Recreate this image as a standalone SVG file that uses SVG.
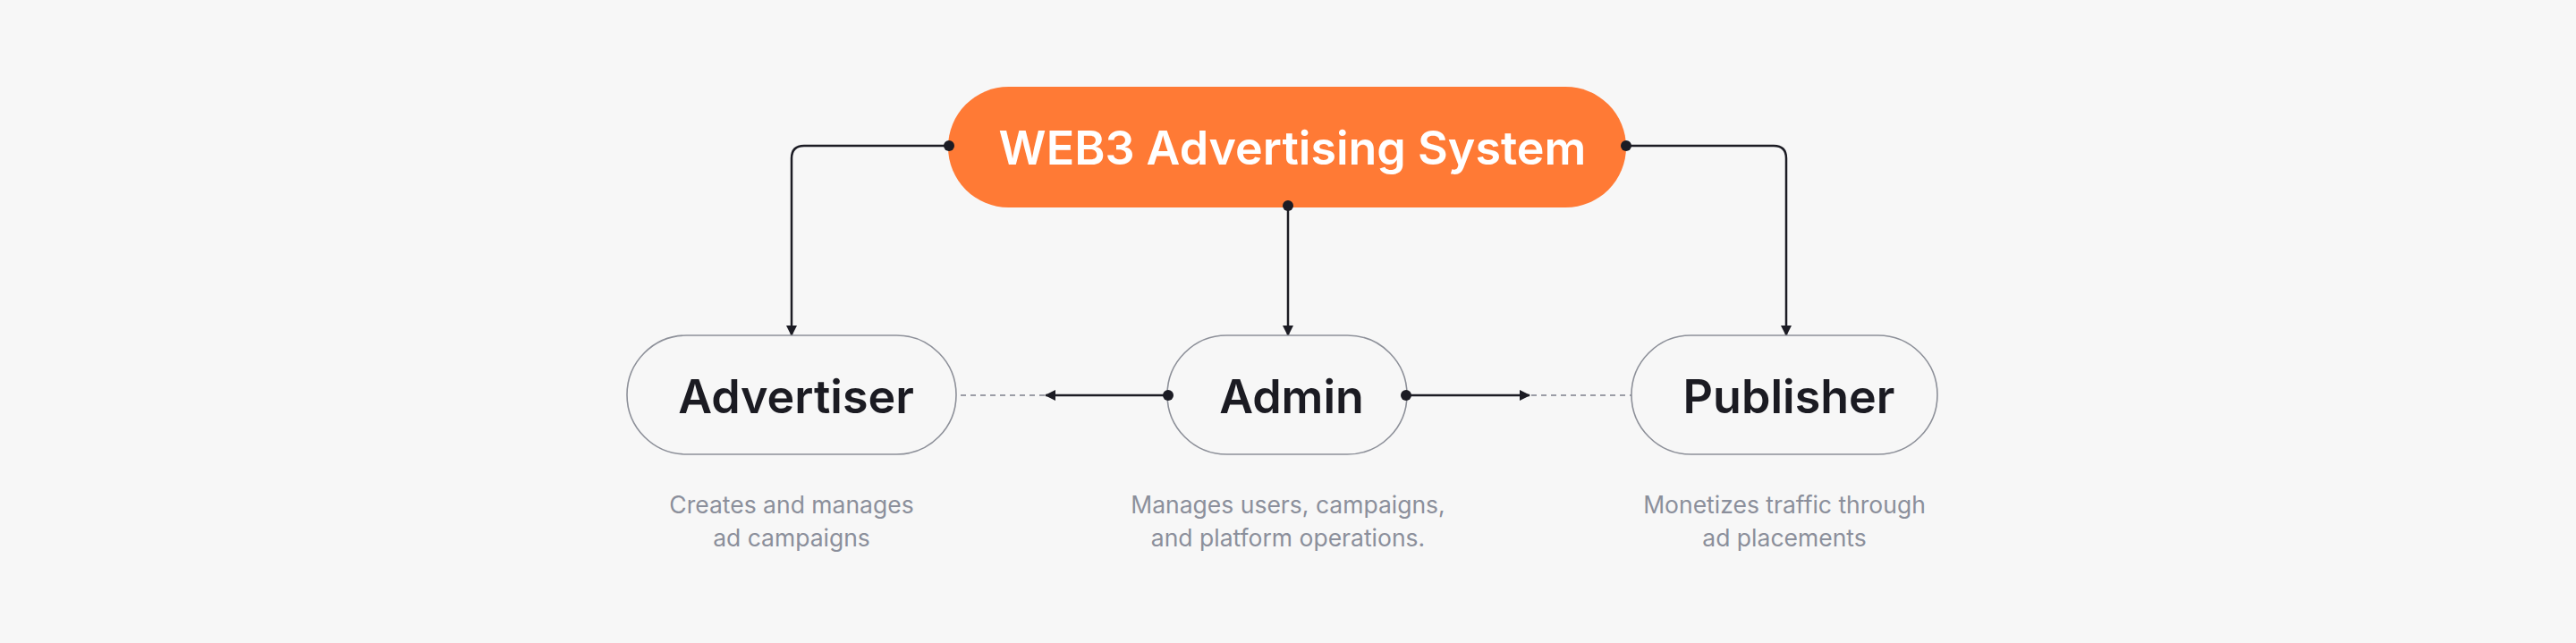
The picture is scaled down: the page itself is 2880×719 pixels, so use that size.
<svg xmlns="http://www.w3.org/2000/svg" width="2880" height="719" viewBox="0 0 2880 719">
<style>
.bg{fill:#f7f7f7}
.node{fill:#f7f7f7;stroke:#8d9099;stroke-width:1.6}
.label{font-family:Inter,"Liberation Sans",sans-serif;font-weight:600;font-size:52px;fill:#1b1b22;text-anchor:middle}
.title{font-family:Inter,"Liberation Sans",sans-serif;font-weight:600;font-size:52px;fill:#ffffff;text-anchor:middle}
.desc{font-family:Inter,"Liberation Sans",sans-serif;font-weight:400;font-size:26.5px;fill:#8b8f9b;text-anchor:middle}
.edge{fill:none;stroke:#1c1c24;stroke-width:2.5}
.dash{fill:none;stroke:#9b9da6;stroke-width:2.2;stroke-dasharray:6 5}
.dot{fill:#1c1c24}
</style>
<defs>
<marker id="arrow" viewBox="0 0 12 12" refX="11" refY="6" markerWidth="12" markerHeight="12" markerUnits="userSpaceOnUse" orient="auto">
<path d="M0,0 L12,6 L0,12 Z" fill="#1c1c24"/>
</marker>
</defs>
<rect class="bg" x="0" y="0" width="2880" height="719"/>

<g id="connectors">
<path class="edge" d="M1061,163 H899 Q885,163 885,177 V375" marker-end="url(#arrow)"/>
<path class="edge" d="M1440,230 V375" marker-end="url(#arrow)"/>
<path class="edge" d="M1818,163 H1983 Q1997,163 1997,177 V375" marker-end="url(#arrow)"/>
<path class="edge" d="M1306,442 H1169" marker-end="url(#arrow)"/>
<path class="dash" d="M1168,442 H1068"/>
<path class="edge" d="M1572,442 H1710" marker-end="url(#arrow)"/>
<path class="dash" d="M1712,442 H1824"/>
</g>

<g id="system">
<rect x="1060" y="97" width="758" height="135" rx="67.5" fill="#ff7a35"/>
<text class="title" x="1445" y="184">WEB3 Advertising System</text>
</g>

<g id="advertiser">
<rect class="node" x="701" y="375" width="368" height="133" rx="66.5"/>
<text class="label" x="890" y="462">Advertiser</text>
<text class="desc" x="885" y="574">Creates and manages</text>
<text class="desc" x="885" y="611">ad campaigns</text>
</g>

<g id="admin">
<rect class="node" x="1305" y="375" width="268" height="133" rx="66.5"/>
<text class="label" x="1444" y="462">Admin</text>
<text class="desc" x="1440" y="574">Manages users, campaigns,</text>
<text class="desc" x="1440" y="611">and platform operations.</text>
</g>

<g id="publisher">
<rect class="node" x="1824" y="375" width="342" height="133" rx="66.5"/>
<text class="label" x="2000" y="462">Publisher</text>
<text class="desc" x="1995" y="574">Monetizes traffic through</text>
<text class="desc" x="1995" y="611">ad placements</text>
</g>

<g id="dots">
<circle class="dot" cx="1061" cy="163" r="6"/>
<circle class="dot" cx="1818" cy="163" r="6"/>
<circle class="dot" cx="1440" cy="230" r="6"/>
<circle class="dot" cx="1306" cy="442" r="6"/>
<circle class="dot" cx="1572" cy="442" r="6"/>
</g>
</svg>
